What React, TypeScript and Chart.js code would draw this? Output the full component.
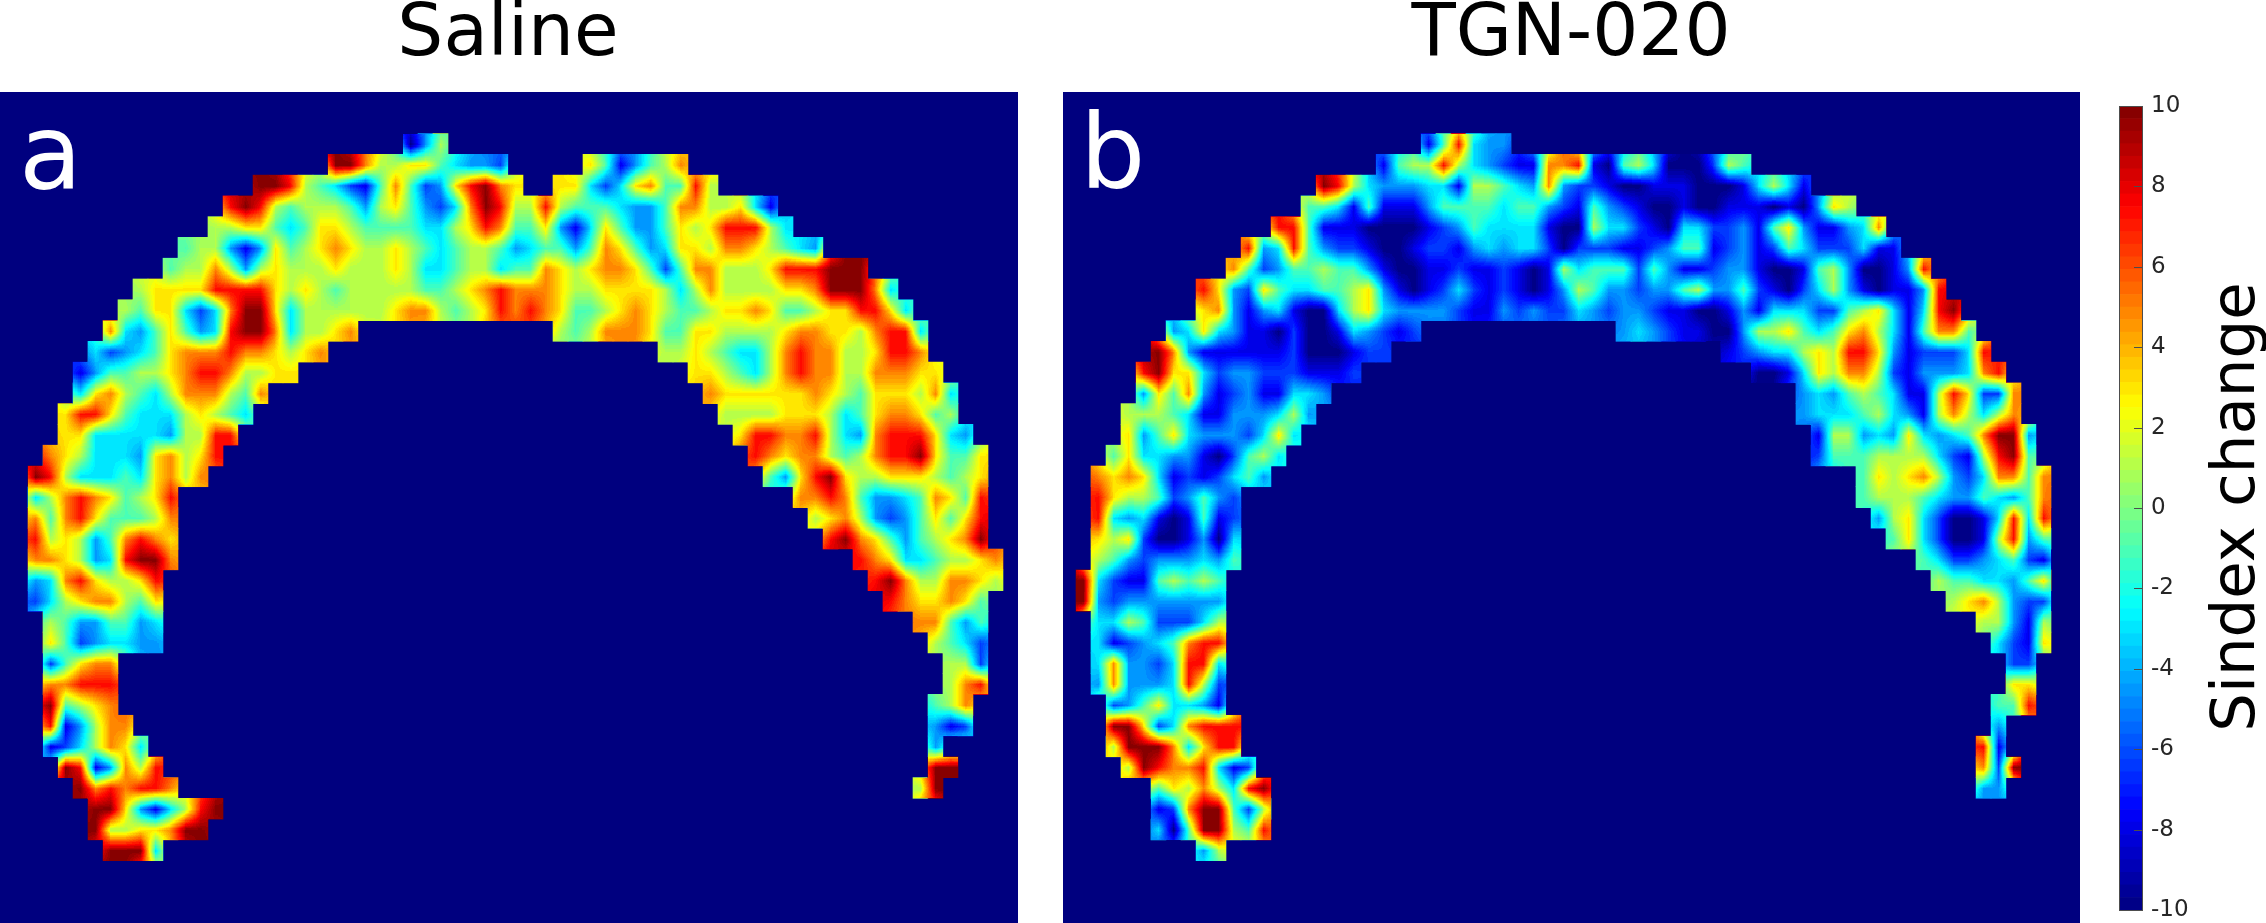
import React, { useEffect, useRef } from "react";
import { Chart, registerables } from "chart.js";

Chart.register(...registerables);

const FONT = "'DejaVu Sans'";
const NAVY = "#00007f";

// Colour level of one cell letter, in Sindex change units
const levelValues: Record<string, number> = {
  "0": -10, "1": -8, "2": -6.3, "3": -4.5, "4": -3, "5": -1, "6": 1, "7": 3, "8": 5, "9": 7.5, x: 10,
};

// Each row: "firstColumn:cells" segments, top row first
const salineRows: string[] = [
  "",
  "",
  "27:036",
  "22:xx8667754332 39:7513568",
  "17:xx9654215852379x87 37:77424785596",
  "15:9x965666536753248x9669655543358866741",
  "14:667754577655554467985573147533576799964",
  "12:5663137567876676545665345535875347768876543",
  "11:56686367666766676445664558767887525886667999xxx",
  "9:6777799997676566666556789888766777764686666778xxx84",
  "8:65774248xx7466666678865679898755678765567787556779974",
  "7:843575349xx846678 37:6568887557766667887768994",
  "6:4234578889887678 44:667654468988667998",
  "5:135566789986677 46:77654689886688877",
  "5:4786546888658 47:87777778765777684",
  "4:7997544467654 48:6666777645788756",
  "4:774444436699 49:7998896438999743",
  "3:876444378679 50:98788656899x7557",
  "2:x96444547868 51:5379x7667776567",
  "2:4689875679 53:8898533458759",
  "2:8589755568 54:678632357579",
  "2:9676358987 55:9x87535678x",
  "2:8876349xx8 57:9874456678",
  "2:348976679 58:9x8668876",
  "2:246788657 59:9877875",
  "3:65335534 61:88535",
  "3:75234433 62:6542",
  "3:25788 63:662",
  "3:88999 63:689",
  "3:x5678 62:568",
  "3:913688 62:312",
  "3:1246874 62:3",
  "4:x913869 62:xx",
  "5:x898998 61:6x",
  "6:xx731469x",
  "6:x66778xx",
  "7:xxx4",
  "",
  "",
  "",
];

const tgnRows: string[] = [
  "",
  "",
  "24:159433",
  "21:1566964321188910564000265",
  "17:x96433344166543832210011100014641",
  "16:5541511135555455321532100100111010376",
  "14:99511100001235444410064421044223157311348",
  "12:93495322100122134344202221123551231254222411",
  "11:85235565531001121121016455525311233100156300139",
  "9:97327544556731012421210136533233563352102463101139",
  "9:78313410046743333211323224323321100131444225674149x",
  "7:34743110200143212 37:343211003667545786415885",
  "6:x831111112000122 44:123446769973122249",
  "5:9x7742332221112 46:00147688621333489",
  "5:3758312311443 49:343565411697228",
  "4:6665411333463 49:344456431686468",
  "4:735743332474 50:166343743458xx3",
  "3:574433102564 50:2555666642169x5",
  "2:878741212453 53:5767863248858",
  "2:9766523532 53:5666543354358",
  "2:9434101512 54:367420014949",
  "2:7672001304 55:57420016935",
  "2:6532333435 57:542234521",
  "1:x421156565 58:65544357",
  "1:x323333333 59:6786322",
  "2:446522246 61:66316",
  "2:412345899 62:4217",
  "2:483324994 63:22",
  "2:383334962 63:77",
  "3:23574431 62:559",
  "3:xx7248999 62:3",
  "3:6xxx84799 61:91",
  "4:6x9889412 61:82x",
  "6:5768649x 61:33",
  "6:128xx526",
  "6:405xx659",
  "9:36",
  "",
  "",
  "",
];

const COLUMN_COUNT = 68;
const ROW_COUNT = 40;

// Colour bar band edges
const barEdges: number[] = [
  -10, -9.6875, -9.375, -9.0625, -8.75, -8.4375, -8.125, -7.8125, -7.5, -7.1875, -6.875, -6.5625, -6.25, -5.9375,
  -5.625, -5.3125, -5, -4.6875, -4.375, -4.0625, -3.75, -3.4375, -3.125, -2.8125, -2.5, -2.1875, -1.875, -1.5625,
  -1.25, -0.9375, -0.625, -0.3125, 0, 0.3125, 0.625, 0.9375, 1.25, 1.5625, 1.875, 2.1875, 2.5, 2.8125, 3.125, 3.4375,
  3.75, 4.0625, 4.375, 4.6875, 5, 5.3125, 5.625, 5.9375, 6.25, 6.5625, 6.875, 7.1875, 7.5, 7.8125, 8.125, 8.4375,
  8.75, 9.0625, 9.375, 9.6875, 10,
];

const clamp01 = (n: number) => Math.max(0, Math.min(1, n));
function jetRgb(v: number): [number, number, number] {
  const t = (v + 10) / 20;
  const r = clamp01(1.5 - Math.abs(4 * t - 3));
  const g = clamp01(1.5 - Math.abs(4 * t - 2));
  const b = clamp01(1.5 - Math.abs(4 * t - 1));
  return [Math.round(r * 255), Math.round(g * 255), Math.round(b * 255)];
}
function jet(v: number): string {
  const [r, g, b] = jetRgb(v);
  return `rgb(${r},${g},${b})`;
}

function parseGrid(rows: string[]): (number | null)[][] {
  return rows.map((row) => {
    const cells: (number | null)[] = new Array(COLUMN_COUNT).fill(null);
    row.split(" ").filter(Boolean).forEach((seg) => {
      const [start, values] = seg.split(":");
      [...values].forEach((c, i) => {
        cells[Number(start) + i] = levelValues[c];
      });
    });
    return cells;
  });
}

function panelDatasets(grid: (number | null)[][]) {
  return grid
    .map((cells, r) => ({
      data: cells.map((v) => (v === null ? null : [r, r + 1])),
      backgroundColor: cells.map((v) => (v === null ? NAVY : jet(v))),
      borderWidth: 0,
    }))
    .filter((d) => d.data.some((v) => v !== null));
}

// Repaints the cells the way the reference shows them: the cell values are
// shaded smoothly between cell centres, inside the outline of the cells.
function drawSmoothShading(chart: any, grid: (number | null)[][]) {
  const { ctx, chartArea: a, scales } = chart;
  const w = Math.round(a.right - a.left);
  const h = Math.round(a.bottom - a.top);
  const small = document.createElement("canvas");
  small.width = COLUMN_COUNT;
  small.height = ROW_COUNT;
  const sctx = small.getContext("2d")!;
  const img = sctx.createImageData(COLUMN_COUNT, ROW_COUNT);
  for (let r = 0; r < ROW_COUNT; r++) {
    for (let k = 0; k < COLUMN_COUNT; k++) {
      let v = grid[r][k];
      if (v === null) {
        let sum = 0;
        let n = 0;
        for (let dr = -1; dr <= 1; dr++) {
          for (let dk = -1; dk <= 1; dk++) {
            const u = grid[r + dr]?.[k + dk];
            if (u !== null && u !== undefined) {
              sum += u;
              n++;
            }
          }
        }
        v = n ? sum / n : -10;
      }
      const g = Math.round(((v + 10) / 20) * 255);
      const i = (r * COLUMN_COUNT + k) * 4;
      img.data[i] = g;
      img.data[i + 1] = g;
      img.data[i + 2] = g;
      img.data[i + 3] = 255;
    }
  }
  sctx.putImageData(img, 0, 0);

  const big = document.createElement("canvas");
  big.width = w;
  big.height = h;
  const bctx = big.getContext("2d", { willReadFrequently: true })!;
  bctx.imageSmoothingEnabled = true;
  bctx.imageSmoothingQuality = "low";
  bctx.drawImage(small, 0, 0, w, h);
  const out = bctx.getImageData(0, 0, w, h);
  const lut: [number, number, number][] = [];
  for (let g = 0; g < 256; g++) {
    const band = Math.min(63, Math.floor((g / 256) * 64));
    lut.push(jetRgb(-10 + ((band + 0.5) / 64) * 20));
  }
  for (let i = 0; i < out.data.length; i += 4) {
    const c = lut[out.data[i]];
    out.data[i] = c[0];
    out.data[i + 1] = c[1];
    out.data[i + 2] = c[2];
  }
  bctx.putImageData(out, 0, 0);

  const colW = (a.right - a.left) / COLUMN_COUNT;
  ctx.save();
  ctx.beginPath();
  grid.forEach((cells, r) => {
    cells.forEach((v, k) => {
      if (v === null) return;
      const cx = scales.x.getPixelForValue(k);
      const x0 = Math.round(cx - colW / 2);
      const x1 = Math.round(cx + colW / 2);
      const y0 = Math.round(scales.y.getPixelForValue(r));
      const y1 = Math.round(scales.y.getPixelForValue(r + 1));
      ctx.rect(x0, y0, x1 - x0, y1 - y0);
    });
  });
  ctx.clip();
  ctx.drawImage(big, a.left, a.top);
  ctx.restore();
}

function panelChart(canvas: HTMLCanvasElement, title: string, rows: string[], letter: string, letterX: number, letterY: number) {
  const grid = parseGrid(rows);
  return new Chart(canvas, {
    type: "bar",
    data: { labels: new Array(COLUMN_COUNT).fill(""), datasets: panelDatasets(grid) as any },
    options: {
      animation: false,
      responsive: false,
      events: [],
      layout: { padding: 0 },
      datasets: { bar: { grouped: false, barPercentage: 1, categoryPercentage: 1 } } as any,
      plugins: {
        legend: { display: false },
        tooltip: { enabled: false },
        title: {
          display: true,
          text: title,
          color: "#000000",
          font: { family: FONT, size: 72.5, weight: "normal", lineHeight: 1 },
          padding: { top: 0, bottom: 19.5 },
        },
      },
      scales: {
        x: { display: false },
        y: { display: false, reverse: true, min: 0, max: ROW_COUNT },
      },
    },
    plugins: [
      {
        id: "panelBackground",
        beforeDatasetsDraw(chart: any) {
          const { ctx, chartArea: a } = chart;
          ctx.save();
          ctx.fillStyle = NAVY;
          ctx.fillRect(a.left, a.top, a.right - a.left, a.bottom - a.top);
          ctx.restore();
        },
        afterDatasetsDraw(chart: any) {
          drawSmoothShading(chart, grid);
          const { ctx } = chart;
          ctx.save();
          ctx.fillStyle = "#ffffff";
          ctx.font = `103px ${FONT}`;
          ctx.textBaseline = "alphabetic";
          ctx.fillText(letter, letterX, letterY);
          ctx.restore();
        },
      },
    ],
  } as any);
}

function colourBarChart(canvas: HTMLCanvasElement) {
  const bands = barEdges.slice(0, -1).map((low, i) => ({
    data: [[low, barEdges[i + 1]]],
    backgroundColor: jet((low + barEdges[i + 1]) / 2),
    borderWidth: 0,
  }));
  return new Chart(canvas, {
    type: "bar",
    data: { labels: [""], datasets: bands as any },
    options: {
      animation: false,
      responsive: false,
      events: [],
      layout: { padding: { left: 19, top: 106, bottom: 40, right: 0 } },
      datasets: { bar: { grouped: false, barPercentage: 1, categoryPercentage: 1 } } as any,
      plugins: { legend: { display: false }, tooltip: { enabled: false } },
      scales: {
        x: { display: false },
        y: {
          position: "right",
          min: -10,
          max: 10,
          afterFit(scale: any) {
            scale.width = 123;
          },
          grid: { display: false, drawTicks: false },
          border: { display: false },
          ticks: {
            stepSize: 2,
            padding: 8,
            color: "#262626",
            font: { family: FONT, size: 23, lineHeight: 1 },
          },
        },
      },
    },
    plugins: [
      {
        id: "barFrame",
        afterDatasetsDraw(chart: any) {
          const { ctx, chartArea: a, scales } = chart;
          ctx.save();
          ctx.strokeStyle = "#4d4d4d";
          ctx.lineWidth = 1;
          ctx.strokeRect(a.left + 0.5, a.top + 0.5, a.right - a.left - 1, a.bottom - a.top);
          ctx.beginPath();
          scales.y.ticks.forEach((t: any) => {
            const y = Math.round(scales.y.getPixelForValue(t.value)) + 0.5;
            ctx.moveTo(a.right - 9, y);
            ctx.lineTo(a.right, y);
          });
          ctx.stroke();
          ctx.fillStyle = "#000000";
          ctx.font = `61px ${FONT}`;
          ctx.textAlign = "center";
          ctx.textBaseline = "alphabetic";
          ctx.translate(154, 507);
          ctx.rotate(-Math.PI / 2);
          ctx.fillText("Sindex change", 0, 0);
          ctx.restore();
        },
      },
    ],
  } as any);
}

export default function App() {
  const a = useRef<HTMLCanvasElement>(null);
  const b = useRef<HTMLCanvasElement>(null);
  const c = useRef<HTMLCanvasElement>(null);
  useEffect(() => {
    const charts = [
      panelChart(a.current!, "Saline", salineRows, "a", 21, 189),
      panelChart(b.current!, "TGN-020", tgnRows, "b", 19, 188),
      colourBarChart(c.current!),
    ];
    return () => charts.forEach((ch) => ch.destroy());
  }, []);
  const clip = (left: number, width: number): React.CSSProperties => ({
    position: "absolute",
    left,
    top: 0,
    width,
    height: 923,
    overflow: "hidden",
  });
  return (
    <div style={{ position: "fixed", left: 0, top: 0, width: 2266, height: 923, background: "#fff", overflow: "hidden" }}>
      <div style={clip(0, 1018)}>
        <canvas ref={a} width={1020} height={923} style={{ position: "absolute", left: -2, top: 0 }} />
      </div>
      <div style={clip(1063, 1017)}>
        <canvas ref={b} width={1020} height={923} style={{ position: "absolute", left: -2, top: 0 }} />
      </div>
      <canvas ref={c} width={166} height={950} style={{ position: "absolute", left: 2100, top: 0 }} />
    </div>
  );
}
